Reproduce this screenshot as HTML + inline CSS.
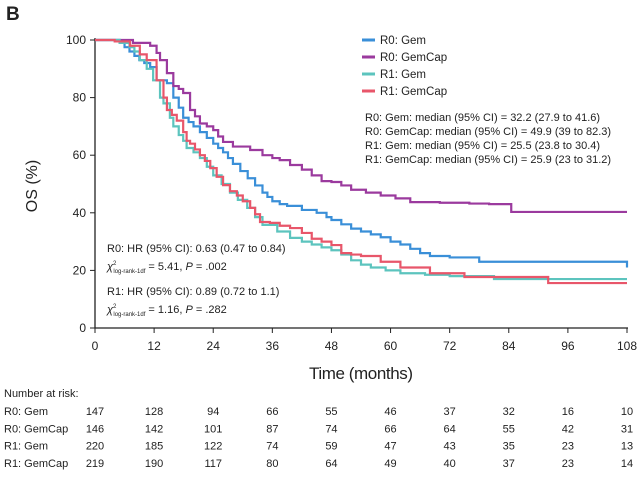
<!DOCTYPE html>
<html><head><meta charset="utf-8"><style>
body{margin:0;background:#fff;}
svg text{font-family:"Liberation Sans Narrow","Liberation Sans",sans-serif;fill:#222;}
</style></head><body>
<svg width="641" height="475" viewBox="0 0 641 475">
<text x="6" y="20" font-size="19" font-weight="bold" font-family="Liberation Sans,sans-serif">B</text>
<g id="axes"></g>
<g id="curves"></g>
<text transform="translate(37,186) rotate(-90)" text-anchor="middle" font-size="16">OS (%)</text>
<text x="361" y="379" text-anchor="middle" font-size="17" textLength="104">Time (months)</text>
<g id="legend"></g>
<g font-size="11">
<text x="365" y="121">R0: Gem: median (95% CI) =  32.2 (27.9 to 41.6)</text>
<text x="365" y="135">R0: GemCap: median (95% CI) =  49.9 (39 to 82.3)</text>
<text x="365" y="149">R1: Gem: median (95% CI) =  25.5 (23.8 to 30.4)</text>
<text x="365" y="163">R1: GemCap: median (95% CI) =  25.9 (23 to 31.2)</text>
</g>
<g font-size="11">
<text x="107" y="252">R0: HR (95% CI): 0.63 (0.47 to 0.84)</text>
<text x="107" y="270"><tspan font-style="italic">χ</tspan><tspan font-size="6" dy="-5">2</tspan><tspan font-size="6" dx="-3" dy="8">log-rank-1df</tspan><tspan dy="-3"> = 5.41, </tspan><tspan font-style="italic">P</tspan><tspan> = .002</tspan></text>
<text x="107" y="295">R1: HR (95% CI): 0.89 (0.72 to 1.1)</text>
<text x="107" y="313"><tspan font-style="italic">χ</tspan><tspan font-size="6" dy="-5">2</tspan><tspan font-size="6" dx="-3" dy="8">log-rank-1df</tspan><tspan dy="-3"> = 1.16, </tspan><tspan font-style="italic">P</tspan><tspan> = .282</tspan></text>
</g>
<g id="risk" font-size="11"></g>
</svg>
<script>
const NS="http://www.w3.org/2000/svg";
const xTicks=[0,12,24,36,48,60,72,84,96,108];
const yTicks=[0,20,40,60,80,100];
const seriesNames=["R0: Gem","R0: GemCap","R1: Gem","R1: GemCap"];
const seriesColors=["#3a8fd8","#9b3a9e","#5cc4be","#e8566a"];
const r0GemT=[0,5,6,7,8,9,10,11.2,12.5,14.6,15.9,17,17.9,19,20,21.3,22.7,24,25,26,27,28,29.5,31,32.5,34,35,36,37.5,39,42,45,47,48,50,52,54,56,58,60,62,64,66,68,72,78,107,108];
const r0GemS=[100,99,97.5,96,94.5,93,92,90.6,86,85,80,76.5,73,71.5,70,68,66,64,62.5,61,59,57,54.5,52,49.5,47,45.5,44,43,42.4,41,40,38.5,37.5,36,34.5,33.5,32.5,31.5,30,29,27.5,26,25,24.5,23,23,21];
const r0GemCapT=[0,7.7,11.2,12.5,13.2,14.6,15.9,17,17.9,19.3,20.3,21.3,22.7,24,25,26,28,31.5,34,36,37.5,39.6,42,44,46,48,50,52,55,58,61,64,70,76,80,84.5,108];
const r0GemCapS=[100,99,98,95.5,93,88.5,84,83,81.6,75.7,73.5,71,70,68.7,66.5,64.6,63,61.8,60,59,58.3,56.6,55,53,51,50.7,49.5,48,47,46,45,43.7,43.5,43.2,43,40.3,40.3];
const r1GemT=[0,5,7,8,9.1,10.5,11.8,13.2,13.9,15.2,15.9,17,17.9,18.6,20,21.3,22.7,24,25.7,27.4,29,30.9,32.5,34,37,39.6,42,44,46,48,50,52,54,56,59,62,67,72,81,108];
const r1GemS=[100,99,97.5,96,93,90,86,80,78,73,70,67,65,62.5,61,59,56,53,50,47,44.5,41.7,38.5,35.8,33.5,31.3,30,29,28,27,25.5,23.5,22,21,20,19,18.5,18,17,17];
const r1GemCapT=[0,4,7.1,9.1,10.5,12.5,13.9,14.6,15.6,16.6,17.9,18.6,19.3,20.3,21.3,22.3,23.4,24.7,26,27.4,28.8,30,31.5,32.5,33.5,35.5,37.5,39.6,42,44,46,48,50,52,54,58,62,68,75,92,108];
const r1GemCapS=[100,99.5,98,95,93,86,80,75.7,74,72,68,65,64,62,60,58,55.5,52.5,49.6,47.5,46,44,41.7,39.5,36.8,36.5,35.5,34.7,33,31,30,28.8,26,25.5,25,23,21,19,17.7,15.6,15.6];
const riskCounts=[[147,128,94,66,55,46,37,32,16,10],[146,142,101,87,74,66,64,55,42,31],[220,185,122,74,59,47,43,35,23,13],[219,190,117,80,64,49,40,37,23,14]];
const X0=95,X1=627,Y0=328,Y1=40;
const xs=t=>X0+(t/108)*(X1-X0);
const ys=s=>Y0-(s/100)*(Y0-Y1);
function mk(tag,attrs,parent){const e=document.createElementNS(NS,tag);for(const k in attrs)e.setAttribute(k,attrs[k]);parent.appendChild(e);return e;}
const axes=document.getElementById('axes');
let ax=mk('path',{d:`M${X0},${Y1-2}V${Y0}H${X1+1}`,fill:'none',stroke:'#222','stroke-width':1.3},axes);


xTicks.forEach(t=>{
 const l=mk('line',{x1:xs(t),x2:xs(t),y1:Y0,y2:Y0+5,stroke:'#222'},axes);
 
 
 const tx=mk('text',{x:xs(t),y:Y0+22,'text-anchor':'middle','font-size':12},axes);
 tx.textContent=t;
 
 
});
yTicks.forEach(v=>{
 const l=mk('line',{x1:X0-5,x2:X0,y1:ys(v),y2:ys(v),stroke:'#222'},axes);
 
 
 const tx=mk('text',{x:X0-9,y:ys(v)+4,'text-anchor':'end','font-size':12},axes);
 tx.textContent=v;
 
 
});
const allT=[r0GemT,r0GemCapT,r1GemT,r1GemCapT],allS=[r0GemS,r0GemCapS,r1GemS,r1GemCapS];
const curves=document.getElementById('curves');
allT.forEach((T,i)=>{
 const S=allS[i];let d=`M${xs(T[0])},${ys(S[0])}`;
 for(let k=1;k<T.length;k++){d+=`H${xs(T[k])}V${ys(S[k])}`;}
 const p=mk('path',{d:d,fill:'none',stroke:seriesColors[i],'stroke-width':2.2},curves);
 
 
});
const lg=document.getElementById('legend');
seriesNames.forEach((n,i)=>{
 const y=40+i*17;
 const l=mk('line',{x1:362,x2:375,y1:y,y2:y,stroke:seriesColors[i],'stroke-width':3},lg);
 
 
 const t=mk('text',{x:380,y:y+4,'font-size':11.5},lg);
 t.textContent=n;
 
 
});
const rk=document.getElementById('risk');
const h=mk('text',{x:4,y:397},rk);h.textContent="Number at risk:";


seriesNames.forEach((n,i)=>{
 const y=415+i*17.3;
 const lb=mk('text',{x:4,y:y},rk);lb.textContent=n;
 
 
 riskCounts[i].forEach((c,j)=>{
  const t=mk('text',{x:xs(xTicks[j]),y:y,'text-anchor':'middle'},rk);t.textContent=c;
  
  
 });
});
</script>
</body></html>
